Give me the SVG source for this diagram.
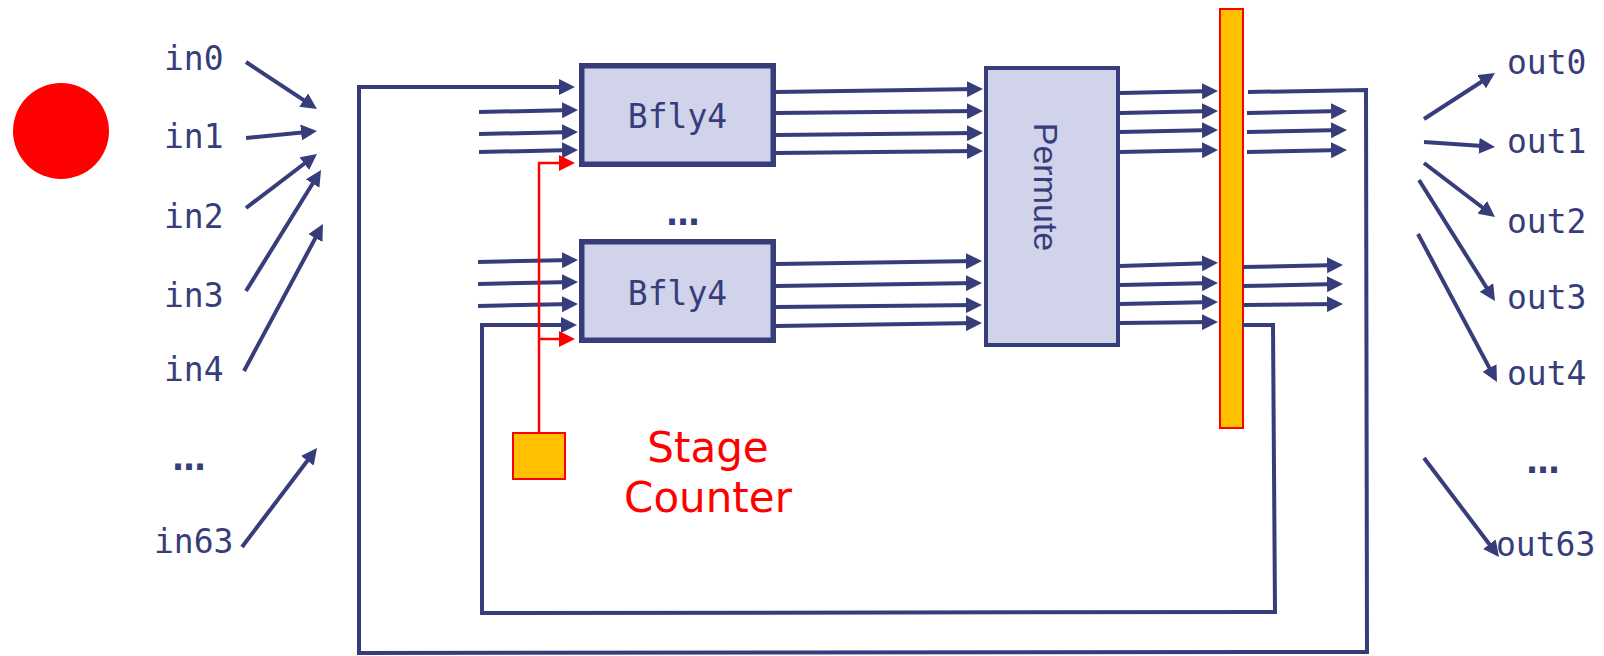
<svg xmlns="http://www.w3.org/2000/svg" width="1604" height="656" viewBox="0 0 1604 656">
<style>
.ln{fill:none;stroke:#373D7A;stroke-width:4;stroke-linejoin:miter}
.ar{marker-end:url(#ah)}
.rd{fill:none;stroke:#FF0000;stroke-width:2.5}
.lbl{font-family:"DejaVu Sans Mono",monospace;font-size:33px;fill:#373D7A}
.box{fill:#D0D3EA;stroke:#373D7A}
.reg{fill:#FFC000;stroke:#FF0000;stroke-width:2}
.dots{font-family:"DejaVu Sans",sans-serif;font-size:33px;font-weight:bold;fill:#373D7A;text-anchor:middle}
</style>
<defs>
<marker id="ah" markerUnits="userSpaceOnUse" viewBox="0 0 16 16" markerWidth="16" markerHeight="16" refX="11" refY="8" orient="auto">
<path d="M0,0 L16,8 L0,16 z" fill="#373D7A"/>
</marker>
<marker id="ahr" markerUnits="userSpaceOnUse" viewBox="0 0 16 16" markerWidth="16" markerHeight="16" refX="11" refY="8" orient="auto">
<path d="M0,0 L16,8 L0,16 z" fill="#FF0000"/>
</marker>
</defs>
<rect width="1604" height="656" fill="#FFFFFF"/>

<g id="dot"><circle cx="61" cy="131" r="48" fill="#FF0000"/></g>

<g id="inputs">
<text class="lbl" x="164" y="70">in0</text>
<text class="lbl" x="164" y="148">in1</text>
<text class="lbl" x="164" y="228">in2</text>
<text class="lbl" x="164" y="307">in3</text>
<text class="lbl" x="164" y="381">in4</text>
<text class="dots" x="189" y="470">…</text>
<text class="lbl" x="154" y="553">in63</text>
</g>

<g id="outputs">
<text class="lbl" x="1507" y="74">out0</text>
<text class="lbl" x="1507" y="153">out1</text>
<text class="lbl" x="1507" y="233">out2</text>
<text class="lbl" x="1507" y="309">out3</text>
<text class="lbl" x="1507" y="385">out4</text>
<text class="dots" x="1543" y="473">…</text>
<text class="lbl" x="1496" y="556">out63</text>
</g>

<g id="bfly4-top">
<rect class="box" x="581.75" y="65.75" width="191.5" height="98.5" stroke-width="5.5"/>
<text class="lbl" x="677.5" y="128" text-anchor="middle">Bfly4</text>
</g>
<g id="bfly-dots"><text class="dots" x="683" y="225">…</text></g>
<g id="bfly4-bottom">
<rect class="box" x="581.75" y="241.75" width="191.5" height="98.5" stroke-width="5.5"/>
<text class="lbl" x="677.5" y="305" text-anchor="middle">Bfly4</text>
</g>

<g id="permute">
<rect class="box" x="986" y="68" width="132" height="277" stroke-width="4"/>
<text transform="translate(1034,187) rotate(90)" text-anchor="middle" font-family="'Liberation Sans',Arial,sans-serif" font-size="34" fill="#373D7A">Permute</text>
</g>

<g id="register"><rect class="reg" x="1220" y="9" width="23" height="419"/></g>

<g id="stage-counter">
<rect class="reg" x="513" y="433" width="52" height="46"/>
<text x="708" y="462" text-anchor="middle" font-family="'DejaVu Sans',Verdana,sans-serif" font-size="42" fill="#FF0000">Stage</text>
<text x="708" y="512" text-anchor="middle" font-family="'DejaVu Sans',Verdana,sans-serif" font-size="42" fill="#FF0000">Counter</text>
</g>

<g id="connectors">
<line class="ln ar" x1="246" y1="62" x2="312.8" y2="106.2"/>
<line class="ln ar" x1="246" y1="138" x2="312" y2="131.5"/>
<line class="ln ar" x1="246" y1="208" x2="313" y2="157"/>
<line class="ln ar" x1="246" y1="291" x2="318.4" y2="174.2"/>
<line class="ln ar" x1="244" y1="371" x2="320.6" y2="228.4"/>
<line class="ln ar" x1="242" y1="547" x2="314" y2="452"/>
<line class="ln ar" x1="1424" y1="119" x2="1490.8" y2="75.7"/>
<line class="ln ar" x1="1424" y1="142" x2="1490" y2="146.6"/>
<line class="ln ar" x1="1424" y1="163" x2="1491" y2="214"/>
<line class="ln ar" x1="1419" y1="180" x2="1492.3" y2="296.8"/>
<line class="ln ar" x1="1418" y1="234" x2="1494.6" y2="377.6"/>
<line class="ln ar" x1="1424" y1="458" x2="1496" y2="553"/>
<path class="ln ar" d="M1248,92 L1366,90 L1367,652 L359,653 L359,87 L570,87"/>
<path class="ln ar" d="M1242,325 L1273,325 L1275,612 L482,613 L482,325 L572,325"/>
<line class="ln ar" x1="479" y1="112" x2="573" y2="110"/>
<line class="ln ar" x1="479" y1="134" x2="573" y2="132"/>
<line class="ln ar" x1="479" y1="152" x2="573" y2="150"/>
<line class="ln ar" x1="478" y1="262" x2="573" y2="260"/>
<line class="ln ar" x1="478" y1="284" x2="573" y2="282"/>
<line class="ln ar" x1="478" y1="306" x2="573" y2="304"/>
<line class="ln ar" x1="776" y1="92" x2="978" y2="89"/>
<line class="ln ar" x1="776" y1="113" x2="978" y2="111"/>
<line class="ln ar" x1="776" y1="135" x2="978" y2="133"/>
<line class="ln ar" x1="776" y1="153" x2="978" y2="151"/>
<line class="ln ar" x1="776" y1="264" x2="977" y2="261"/>
<line class="ln ar" x1="776" y1="286" x2="977" y2="283"/>
<line class="ln ar" x1="776" y1="307" x2="977" y2="305"/>
<line class="ln ar" x1="776" y1="326" x2="977" y2="323"/>
<line class="ln ar" x1="1120" y1="93" x2="1213" y2="91"/>
<line class="ln ar" x1="1120" y1="113" x2="1213" y2="111"/>
<line class="ln ar" x1="1120" y1="132" x2="1213" y2="130"/>
<line class="ln ar" x1="1120" y1="152" x2="1213" y2="150"/>
<line class="ln ar" x1="1120" y1="266" x2="1213" y2="263"/>
<line class="ln ar" x1="1120" y1="285" x2="1213" y2="283"/>
<line class="ln ar" x1="1120" y1="304" x2="1213" y2="302"/>
<line class="ln ar" x1="1120" y1="323" x2="1213" y2="322"/>
<line class="ln ar" x1="1247" y1="113" x2="1342" y2="111"/>
<line class="ln ar" x1="1247" y1="132" x2="1342" y2="130"/>
<line class="ln ar" x1="1247" y1="152" x2="1342" y2="150"/>
<line class="ln ar" x1="1243" y1="267" x2="1338" y2="265"/>
<line class="ln ar" x1="1243" y1="286" x2="1338" y2="284"/>
<line class="ln ar" x1="1243" y1="305" x2="1338" y2="304"/>
<path class="rd" d="M539,433 L539,163 L570,163" marker-end="url(#ahr)"/>
<path class="rd" d="M539,339 L570,339" marker-end="url(#ahr)"/>
</g>
</svg>
